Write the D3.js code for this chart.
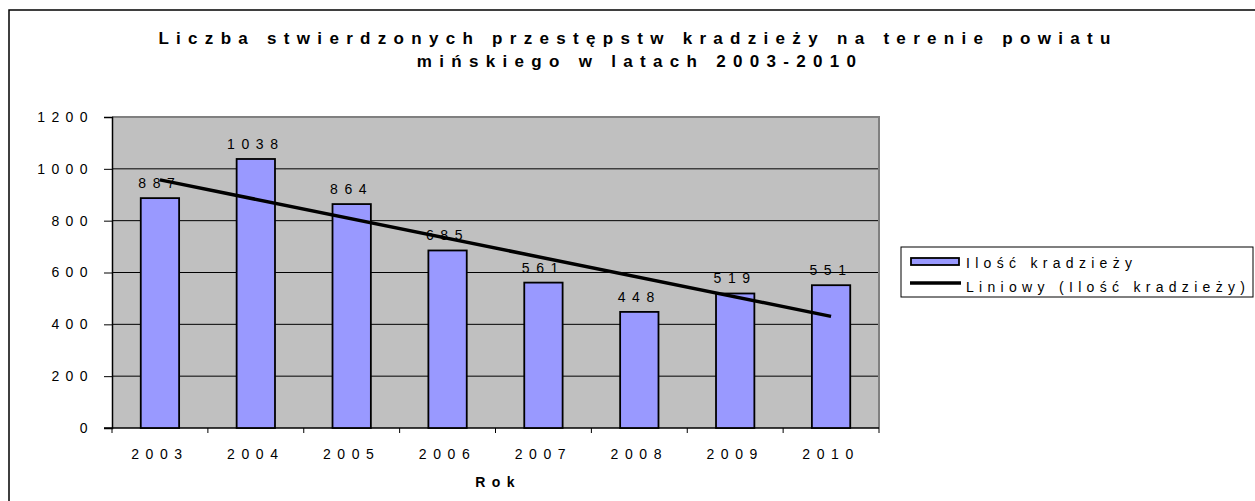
<!DOCTYPE html>
<html>
<head>
<meta charset="utf-8">
<script src="https://cdn.jsdelivr.net/npm/d3@7"></script>
<style>
	body { margin: 0; background: #fff; }
	text { font-family: "Liberation Sans", Arial, sans-serif; fill: #000; }
</style>
</head>
<body>
<svg id="chart" width="1255" height="501"></svg>
<script>
// data
var years = ["2003", "2004", "2005", "2006", "2007", "2008", "2009", "2010"];
var thefts = [887, 1038, 864, 685, 561, 448, 519, 551];
var yTicks = [0, 200, 400, 600, 800, 1000, 1200];
var titleLines = ["Liczba stwierdzonych przestępstw kradzieży na terenie powiatu", "mińskiego w latach 2003-2010"];
var legendLabels = ["Ilość kradzieży", "Liniowy (Ilość kradzieży)"];
var xTitle = "Rok";

var svg = d3.select("#chart");

// plot area (don't use "top", it's window.top)
var pLeft = 112, pRight = 879, pTop = 117, pBottom = 428;

var x = d3.scaleBand().domain(years).range([pLeft, pRight]).padding(0);
var y = d3.scaleLinear().domain([0, 1200]).range([pBottom, pTop]);

// outer frame
svg.append("rect")
	.attr("x", 9).attr("y", 10)
	.attr("width", 1260).attr("height", 500)
	.attr("fill", "none").attr("stroke", "#000").attr("stroke-width", 1.5);

// title
svg.selectAll(".title")
	.data(titleLines)
	.enter()
	.append("text")
	.attr("class", "title")
	.attr("x", function (d, i) {return i == 0 ? 638 : 640;})
	.attr("y", function (d, i) {return 44 + i * 23;})
	.attr("text-anchor", "middle")
	.style("font-size", "17px")
	.style("font-weight", "bold")
	.style("letter-spacing", "7.3px")
	.text(function (d) {return d;});

// background
svg.append("rect")
	.attr("x", pLeft).attr("y", pTop)
	.attr("width", pRight - pLeft).attr("height", pBottom - pTop)
	.attr("fill", "#c0c0c0");

// gridlines
svg.selectAll(".grid")
	.data(yTicks.filter(function (d) {return d > 0 && d < 1200;}))
	.enter()
	.append("line")
	.attr("class", "grid")
	.attr("x1", pLeft).attr("x2", pRight)
	.attr("y1", function (d) {return y(d);})
	.attr("y2", function (d) {return y(d);})
	.attr("stroke", "#000").attr("stroke-width", 1);

// gray border top + right
svg.append("path")
	.attr("d", "M" + pLeft + "," + pTop + "H" + pRight + "V" + pBottom)
	.attr("fill", "none").attr("stroke", "#808080").attr("stroke-width", 2);

// y axis
var yAxis = d3.axisLeft(y).tickValues(yTicks).tickSize(8).tickPadding(10)
	.tickFormat(function (d) {return d;});
var gy = svg.append("g").attr("transform", "translate(" + pLeft + ",0)").call(yAxis);
gy.select(".domain").attr("stroke", "#000").attr("stroke-width", 1.5);
gy.selectAll(".tick line").attr("stroke", "#000");
gy.selectAll(".tick text")
	.style("font-size", "14px")
	.style("letter-spacing", "6.4px")
	.style("font-family", "'Liberation Sans', Arial, sans-serif")
	.attr("fill", "#000");

// x axis, ticks on the category borders
var gx = svg.append("g").attr("transform", "translate(0," + pBottom + ")");
gx.append("line")
	.attr("x1", pLeft - 8).attr("x2", pRight)
	.attr("stroke", "#000").attr("stroke-width", 1.5);
gx.selectAll(".xtick")
	.data(years.concat(["end"]))
	.enter()
	.append("line")
	.attr("class", "xtick")
	.attr("x1", function (d, i) {return pLeft + i * x.step();})
	.attr("x2", function (d, i) {return pLeft + i * x.step();})
	.attr("y1", 0).attr("y2", 5)
	.attr("stroke", "#000");
gx.selectAll(".xlabel")
	.data(years)
	.enter()
	.append("text")
	.attr("class", "xlabel")
	.attr("x", function (d) {return x(d) + x.bandwidth() / 2;})
	.attr("y", 31)
	.attr("text-anchor", "middle")
	.style("font-size", "14px")
	.style("letter-spacing", "6.6px")
	.text(function (d) {return d;});

svg.append("text")
	.attr("x", 498).attr("y", 487)
	.attr("text-anchor", "middle")
	.style("font-size", "14px")
	.style("font-weight", "bold")
	.style("letter-spacing", "6.4px")
	.text(xTitle);

// bars
var barW = x.bandwidth() * 0.4;
svg.selectAll(".bar")
	.data(thefts)
	.enter()
	.append("rect")
	.attr("class", "bar")
	.attr("x", function (d, i) {return x(years[i]) + (x.bandwidth() - barW) / 2;})
	.attr("y", function (d) {return y(d);})
	.attr("width", barW)
	.attr("height", function (d) {return pBottom - y(d);})
	.attr("fill", "#9999ff")
	.attr("stroke", "#000").attr("stroke-width", 1.8);

// value labels
svg.selectAll(".val")
	.data(thefts)
	.enter()
	.append("text")
	.attr("class", "val")
	.attr("x", function (d, i) {return x(years[i]) + x.bandwidth() / 2;})
	.attr("y", function (d) {return y(d) - 10;})
	.attr("text-anchor", "middle")
	.style("font-size", "14px")
	.style("letter-spacing", "6.6px")
	.text(function (d) {return d;});

// linear trend (least squares, like excel)
var n = thefts.length, mx = (n - 1) / 2, my = d3.mean(thefts);
var sxy = 0, sxx = 0;
thefts.forEach(function (v, i) {
	sxy += (i - mx) * (v - my);
	sxx += (i - mx) * (i - mx);
});
var slope = sxy / sxx, icpt = my - slope * mx;

var line = d3.line()
	.x(function (d) {return x(years[d]) + x.bandwidth() / 2;})
	.y(function (d) {return y(icpt + slope * d);});
svg.append("path")
	.datum([0, n - 1])
	.attr("d", line)
	.attr("fill", "none").attr("stroke", "#000").attr("stroke-width", 3.5);

// legend
var lg = svg.append("g");
lg.append("rect")
	.attr("x", 901).attr("y", 247)
	.attr("width", 352).attr("height", 50)
	.attr("fill", "#fff").attr("stroke", "#000").attr("stroke-width", 1);
lg.append("rect")
	.attr("x", 911).attr("y", 258)
	.attr("width", 48).attr("height", 7)
	.attr("fill", "#9999ff").attr("stroke", "#000").attr("stroke-width", 1.8);
lg.append("line")
	.attr("x1", 910).attr("x2", 961)
	.attr("y1", 283).attr("y2", 283)
	.attr("stroke", "#000").attr("stroke-width", 3.5);
lg.selectAll(".ltext")
	.data(legendLabels)
	.enter()
	.append("text")
	.attr("class", "ltext")
	.attr("x", 966)
	.attr("y", function (d, i) {return 268 + i * 24;})
	.style("font-size", "14px")
	.style("letter-spacing", "5.3px")
	.text(function (d) {return d;});
</script>
</body>
</html>
